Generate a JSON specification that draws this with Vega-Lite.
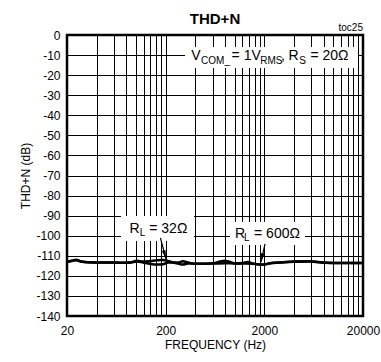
{
  "$schema": "https://vega.github.io/schema/vega-lite/v6.json",
  "width": 296,
  "height": 281,
  "autosize": {"type": "none"},
  "padding": {"left": 67, "top": 35, "right": 18, "bottom": 46},
  "config": {
    "font": "Liberation Sans",
    "locale": {"number": {"decimal": ".", "thousands": "", "grouping": [3], "currency": ["$", ""], "minus": "-"}},
    "view": {"stroke": "black", "strokeWidth": 2.5},
    "axis": {"labelColor": "black", "titleColor": "black", "gridColor": "black", "gridOpacity": 1, "gridWidth": 1, "domain": false, "ticks": false, "labelFontSize": 12, "titleFontSize": 12, "titleFontWeight": "normal"}
  },
  "title": {"text": "THD+N", "fontSize": 15, "fontWeight": "bold", "color": "black", "anchor": "middle", "offset": 1, "dy": 5},
  "datasets": {
    "curves": [
      {"freq": 20, "db": -112.85, "load": "RL = 32Ω"},
      {"freq": 21.96, "db": -112.6, "load": "RL = 32Ω"},
      {"freq": 24.7, "db": -111.96, "load": "RL = 32Ω"},
      {"freq": 27.7, "db": -112.85, "load": "RL = 32Ω"},
      {"freq": 32.6, "db": -113.25, "load": "RL = 32Ω"},
      {"freq": 43.2, "db": -113.35, "load": "RL = 32Ω"},
      {"freq": 61.3, "db": -113.35, "load": "RL = 32Ω"},
      {"freq": 77.4, "db": -113.5, "load": "RL = 32Ω"},
      {"freq": 89.0, "db": -113.25, "load": "RL = 32Ω"},
      {"freq": 102.4, "db": -112.5, "load": "RL = 32Ω"},
      {"freq": 117.8, "db": -112.85, "load": "RL = 32Ω"},
      {"freq": 138.7, "db": -112.6, "load": "RL = 32Ω"},
      {"freq": 163.4, "db": -112.2, "load": "RL = 32Ω"},
      {"freq": 187.9, "db": -112.1, "load": "RL = 32Ω"},
      {"freq": 211.2, "db": -112.6, "load": "RL = 32Ω"},
      {"freq": 237.4, "db": -113.35, "load": "RL = 32Ω"},
      {"freq": 266.8, "db": -113.85, "load": "RL = 32Ω"},
      {"freq": 299.7, "db": -114.35, "load": "RL = 32Ω"},
      {"freq": 336.8, "db": -113.85, "load": "RL = 32Ω"},
      {"freq": 396.6, "db": -113.95, "load": "RL = 32Ω"},
      {"freq": 500.8, "db": -113.95, "load": "RL = 32Ω"},
      {"freq": 632.4, "db": -113.85, "load": "RL = 32Ω"},
      {"freq": 798.6, "db": -113.7, "load": "RL = 32Ω"},
      {"freq": 1008, "db": -113.85, "load": "RL = 32Ω"},
      {"freq": 1274, "db": -113.85, "load": "RL = 32Ω"},
      {"freq": 1608, "db": -114.1, "load": "RL = 32Ω"},
      {"freq": 1894, "db": -114.35, "load": "RL = 32Ω"},
      {"freq": 2282, "db": -113.75, "load": "RL = 32Ω"},
      {"freq": 2883, "db": -113.35, "load": "RL = 32Ω"},
      {"freq": 4090, "db": -113.0, "load": "RL = 32Ω"},
      {"freq": 5804, "db": -112.85, "load": "RL = 32Ω"},
      {"freq": 7332, "db": -113.25, "load": "RL = 32Ω"},
      {"freq": 10402, "db": -113.6, "load": "RL = 32Ω"},
      {"freq": 14766, "db": -113.6, "load": "RL = 32Ω"},
      {"freq": 20000, "db": -113.6, "load": "RL = 32Ω"},
      {"freq": 20, "db": -113.1, "load": "RL = 600Ω"},
      {"freq": 21.96, "db": -112.6, "load": "RL = 600Ω"},
      {"freq": 24.7, "db": -112.25, "load": "RL = 600Ω"},
      {"freq": 27.7, "db": -112.85, "load": "RL = 600Ω"},
      {"freq": 32.6, "db": -113.25, "load": "RL = 600Ω"},
      {"freq": 43.2, "db": -113.35, "load": "RL = 600Ω"},
      {"freq": 61.3, "db": -113.35, "load": "RL = 600Ω"},
      {"freq": 77.4, "db": -113.5, "load": "RL = 600Ω"},
      {"freq": 89.0, "db": -113.35, "load": "RL = 600Ω"},
      {"freq": 102.4, "db": -112.85, "load": "RL = 600Ω"},
      {"freq": 117.8, "db": -113.35, "load": "RL = 600Ω"},
      {"freq": 138.7, "db": -114.0, "load": "RL = 600Ω"},
      {"freq": 163.4, "db": -114.35, "load": "RL = 600Ω"},
      {"freq": 187.9, "db": -114.25, "load": "RL = 600Ω"},
      {"freq": 211.2, "db": -113.35, "load": "RL = 600Ω"},
      {"freq": 237.4, "db": -113.35, "load": "RL = 600Ω"},
      {"freq": 266.8, "db": -113.35, "load": "RL = 600Ω"},
      {"freq": 299.7, "db": -112.75, "load": "RL = 600Ω"},
      {"freq": 336.8, "db": -113.35, "load": "RL = 600Ω"},
      {"freq": 396.6, "db": -113.95, "load": "RL = 600Ω"},
      {"freq": 500.8, "db": -113.95, "load": "RL = 600Ω"},
      {"freq": 632.4, "db": -113.6, "load": "RL = 600Ω"},
      {"freq": 710.6, "db": -112.85, "load": "RL = 600Ω"},
      {"freq": 798.6, "db": -112.46, "load": "RL = 600Ω"},
      {"freq": 897.4, "db": -113.1, "load": "RL = 600Ω"},
      {"freq": 1008, "db": -113.85, "load": "RL = 600Ω"},
      {"freq": 1215, "db": -113.6, "load": "RL = 600Ω"},
      {"freq": 1366, "db": -113.1, "load": "RL = 600Ω"},
      {"freq": 1535, "db": -113.85, "load": "RL = 600Ω"},
      {"freq": 1807, "db": -114.45, "load": "RL = 600Ω"},
      {"freq": 2031, "db": -114.35, "load": "RL = 600Ω"},
      {"freq": 2282, "db": -113.75, "load": "RL = 600Ω"},
      {"freq": 2883, "db": -113.35, "load": "RL = 600Ω"},
      {"freq": 4090, "db": -112.85, "load": "RL = 600Ω"},
      {"freq": 5804, "db": -112.75, "load": "RL = 600Ω"},
      {"freq": 7332, "db": -113.25, "load": "RL = 600Ω"},
      {"freq": 10402, "db": -113.6, "load": "RL = 600Ω"},
      {"freq": 14766, "db": -113.6, "load": "RL = 600Ω"},
      {"freq": 20000, "db": -113.6, "load": "RL = 600Ω"}
    ],
    "boxes": [
      {"freq": 314, "freq2": 17786, "db": -5.98, "db2": -16.4},
      {"freq": 70.5, "freq2": 387, "db": -90.2, "db2": -102.6},
      {"freq": 897, "freq2": 5165, "db": -93.2, "db2": -104.6}
    ],
    "labels": [
      {"freq": 405, "db": -12.46, "t": "V", "role": "main"},
      {"freq": 640, "db": -14.2, "t": "COM_", "role": "sub"},
      {"freq": 1310, "db": -12.46, "t": "= 1V", "role": "main"},
      {"freq": 2360, "db": -14.2, "t": "RMS", "role": "sub"},
      {"freq": 3090, "db": -12.46, "t": ",", "role": "main"},
      {"freq": 3950, "db": -12.46, "t": "R", "role": "main"},
      {"freq": 4874, "db": -14.2, "t": "S", "role": "sub"},
      {"freq": 9152, "db": -12.46, "t": "= 20Ω", "role": "main"},
      {"freq": 96.6, "db": -98.5, "t": "R", "role": "main"},
      {"freq": 116.4, "db": -100.15, "t": "L", "role": "sub"},
      {"freq": 212.6, "db": -98.5, "t": "= 32Ω", "role": "main"},
      {"freq": 1133, "db": -101.15, "t": "R", "role": "main"},
      {"freq": 1325, "db": -102.6, "t": "L", "role": "sub"},
      {"freq": 2686, "db": -101.15, "t": "= 600Ω", "role": "main"},
      {"freq": 20000, "db": 2.0, "t": "toc25", "role": "note"}
    ],
    "arrows": [
      {"load": "RL = 32Ω", "freq": 177, "db": -101.1, "freq2": 201.5, "db2": -111.6},
      {"load": "RL = 600Ω", "freq": 2031, "db": -104.1, "freq2": 1850, "db2": -113.1}
    ],
    "tips": [
      {"load": "RL = 32Ω", "freq": 201.5, "db": -111.6},
      {"load": "RL = 600Ω", "freq": 1850, "db": -113.1}
    ]
  },
  "encoding": {
    "x": {"field": "freq", "type": "quantitative", "scale": {"type": "log", "domain": [20, 20000], "nice": false},
      "axis": {"title": "FREQUENCY (Hz)", "values": [20, 40, 60, 80, 100, 120, 140, 160, 180, 200, 400, 600, 800, 1000, 1200, 1400, 1600, 1800, 2000, 4000, 6000, 8000, 10000, 12000, 14000, 16000, 18000, 20000],
        "tickCount": 40,
        "labelExpr": "(datum.value == 20 || datum.value == 200 || datum.value == 2000 || datum.value == 20000) ? ('' + datum.value) : ''",
        "labelPadding": 9, "titlePadding": 3, "labelFlush": false, "labelOverlap": false}},
    "y": {"field": "db", "type": "quantitative", "scale": {"domain": [-140, 0], "nice": false},
      "axis": {"title": "THD+N (dB)", "values": [-140, -130, -120, -110, -100, -90, -80, -70, -60, -50, -40, -30, -20, -10, 0],
        "tickCount": 30, "format": "d", "labelOverlap": false, "labelFlush": false, "labelPadding": 7, "titlePadding": 3}}
  },
  "layer": [
    {
      "data": {"name": "boxes"},
      "mark": {"type": "rect", "fill": "white", "stroke": null},
      "encoding": {
        "x2": {"field": "freq2"},
        "y2": {"field": "db2"}
      }
    },
    {
      "data": {"name": "curves"},
      "mark": {"type": "line", "color": "black", "strokeWidth": 2.5, "interpolate": "monotone"},
      "encoding": {
        "detail": {"field": "load"}
      }
    },
    {
      "data": {"name": "arrows"},
      "mark": {"type": "rule", "color": "black", "strokeWidth": 1.2},
      "encoding": {
        "x2": {"field": "freq2"},
        "y2": {"field": "db2"}
      }
    },
    {
      "data": {"name": "tips"},
      "transform": [{"filter": "datum.load == 'RL = 32Ω'"}],
      "mark": {"type": "point", "shape": "M-0.3,-1.4L0.3,-1.4L0,0Z", "filled": true, "color": "black", "size": 160, "angle": 345, "opacity": 1},
      "encoding": {}
    },
    {
      "data": {"name": "tips"},
      "transform": [{"filter": "datum.load == 'RL = 600Ω'"}],
      "mark": {"type": "point", "shape": "M-0.3,-1.4L0.3,-1.4L0,0Z", "filled": true, "color": "black", "size": 160, "angle": 12, "opacity": 1},
      "encoding": {}
    },
    {
      "data": {"name": "labels"},
      "transform": [{"filter": "datum.role == 'main'"}],
      "mark": {"type": "text", "fontSize": 14, "color": "black", "align": "center", "baseline": "alphabetic"},
      "encoding": {"text": {"field": "t"}}
    },
    {
      "data": {"name": "labels"},
      "transform": [{"filter": "datum.role == 'sub'"}],
      "mark": {"type": "text", "fontSize": 10, "color": "black", "align": "center", "baseline": "alphabetic"},
      "encoding": {"text": {"field": "t"}}
    },
    {
      "data": {"name": "labels"},
      "transform": [{"filter": "datum.role == 'note'"}],
      "mark": {"type": "text", "fontSize": 10, "color": "black", "align": "right", "baseline": "alphabetic"},
      "encoding": {"text": {"field": "t"}}
    }
  ]
}
